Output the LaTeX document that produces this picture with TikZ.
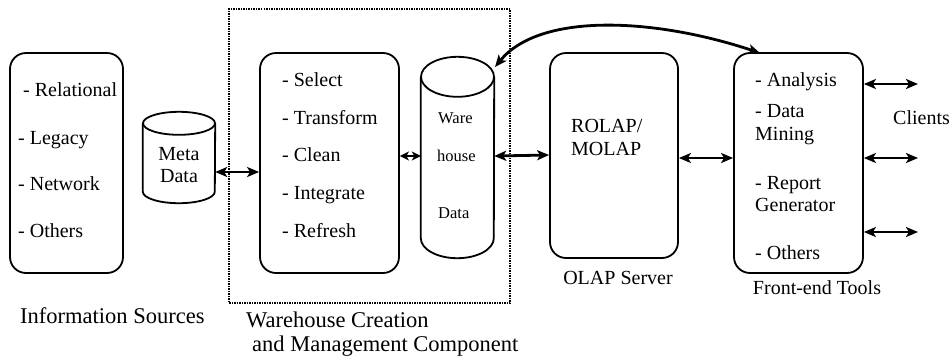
\documentclass[tikz,border=0pt]{standalone}
\usepackage{fontspec}
\setmainfont{Liberation Serif}
\usetikzlibrary{arrows.meta}
\begin{document}
\begin{tikzpicture}[x=1pt,y=-1pt,
 box/.style={draw, line width=1.8pt, rounded corners=16pt, inner sep=0pt},
 cyl/.style={line width=1.8pt},
 item/.style={anchor=base west, inner sep=0pt, font=\fontsize{20}{24}\selectfont},
 citem/.style={anchor=base, inner sep=0pt, font=\fontsize{20}{24}\selectfont},
 small/.style={anchor=base west, inner sep=0pt, font=\fontsize{16.5}{20}\selectfont},
 big/.style={anchor=base west, inner sep=0pt, font=\fontsize{22.5}{27}\selectfont},
 tip/.tip={Stealth[length=12pt,width=10pt,inset=3pt]},
 stip/.tip={Stealth[length=9pt,width=9pt,inset=2.5pt]},
 link/.style={line width=2.8pt, tip-tip},
 slink/.style={line width=2.6pt, stip-stip},
]
\useasboundingbox (0,0) rectangle (951,360);

% dotted component frame
\node[draw, densely dotted, line width=1.5pt, minimum width=281pt, minimum height=294pt, inner sep=0pt] (wcm) at (369.5,156) {};

% boxes
\node[box, minimum width=113pt, minimum height=220pt] (info) at (66.5,163) {};
\node[box, minimum width=139pt, minimum height=220pt] (select) at (329.5,163) {};
\node[box, minimum width=128pt, minimum height=205pt] (olap) at (614,155.5) {};
\node[box, minimum width=129pt, minimum height=220pt] (front) at (798.5,163) {};

% cylinders
\node[minimum width=72pt, minimum height=91pt, inner sep=0pt] (meta) at (179,157.5) {};
\draw[cyl] ([yshift=-11.5pt]meta.north west) -- ([yshift=11.5pt]meta.south west)
  arc[start angle=180, end angle=360, x radius=36pt, y radius=11.5pt]
  -- ([yshift=-11.5pt]meta.north east);
\draw[cyl] ([yshift=-11.5pt]meta.north) ellipse[x radius=36pt, y radius=11.5pt];

\node[minimum width=73pt, minimum height=201pt, inner sep=0pt] (ware) at (457.5,157.5) {};
\draw[cyl] ([yshift=-20pt]ware.north west) -- ([yshift=20pt]ware.south west)
  arc[start angle=180, end angle=360, x radius=36.5pt, y radius=20pt]
  -- ([yshift=-20pt]ware.north east);
\draw[cyl] ([yshift=-20pt]ware.north) ellipse[x radius=36.5pt, y radius=20pt];

% texts: information sources
\node[item] (r1) at (23,96) {- Relational};
\node[item] (r2) at (18,144) {- Legacy};
\node[item] (r3) at (18,190) {- Network};
\node[item] (r4) at (18,237) {- Others};

% meta data
\node[citem] (m1) at (179,160) {Meta};
\node[citem] (m2) at (179,182) {Data};

% select box
\node[item] (s1) at (282,86) {- Select};
\node[item] (s2) at (282,124) {- Transform};
\node[item] (s3) at (282,161) {- Clean};
\node[item] (s4) at (282,199) {- Integrate};
\node[item] (s5) at (282,237) {- Refresh};

% warehouse
\node[small] (w1) at (438,123) {Ware};
\node[small] (w2) at (437,161) {house};
\node[small] (w3) at (438,218) {Data};

% olap
\node[item] (o1) at (571,132) {ROLAP/};
\node[item] (o2) at (571,155) {MOLAP};

% front end
\node[item] (f1) at (755,86) {- Analysis};
\node[item] (f2) at (755,117) {- Data};
\node[item] (f3) at (755,140) {Mining};
\node[item] (f4) at (755,189) {- Report};
\node[item] (f5) at (755,211) {Generator};
\node[item] (f6) at (755,259) {- Others};

\node[item] (cl) at (893,124) {Clients};

% captions
\node[citem] (capo) at (618,284) {OLAP Server};
\node[citem] (capf) at (817,294) {Front-end Tools};
\node[big] (capi) at (20,323) {Information Sources};
\node[big] (capw1) at (246,327) {Warehouse Creation};
\node[big] (capw2) at (252,351) {and Management Component};

% connectors
\draw[link] ([yshift=-14.5pt]meta.east) -- ([yshift=-9pt]select.west);
\draw[slink] ([yshift=7pt]select.east) -- ([yshift=1.5pt]ware.west);
\draw[link] ([yshift=1.5pt]ware.east) -- ([yshift=0.5pt]olap.west);
\draw[link] ([yshift=-2.5pt]olap.east) -- ([yshift=5pt]front.west);

\coordinate (c1) at (918,84);
\coordinate (c2) at (918,158);
\coordinate (c3) at (918,232);
\draw[link] ([yshift=79pt]front.east) -- (c1);
\draw[link] ([yshift=5pt]front.east) -- (c2);
\draw[link] ([yshift=-69pt]front.east) -- (c3);

\coordinate (wtop) at (495,67);
\coordinate (ftop) at (760,53);
\draw[link] (wtop) .. controls (540,12) and (655,18) .. (ftop);
\end{tikzpicture}
\end{document}
